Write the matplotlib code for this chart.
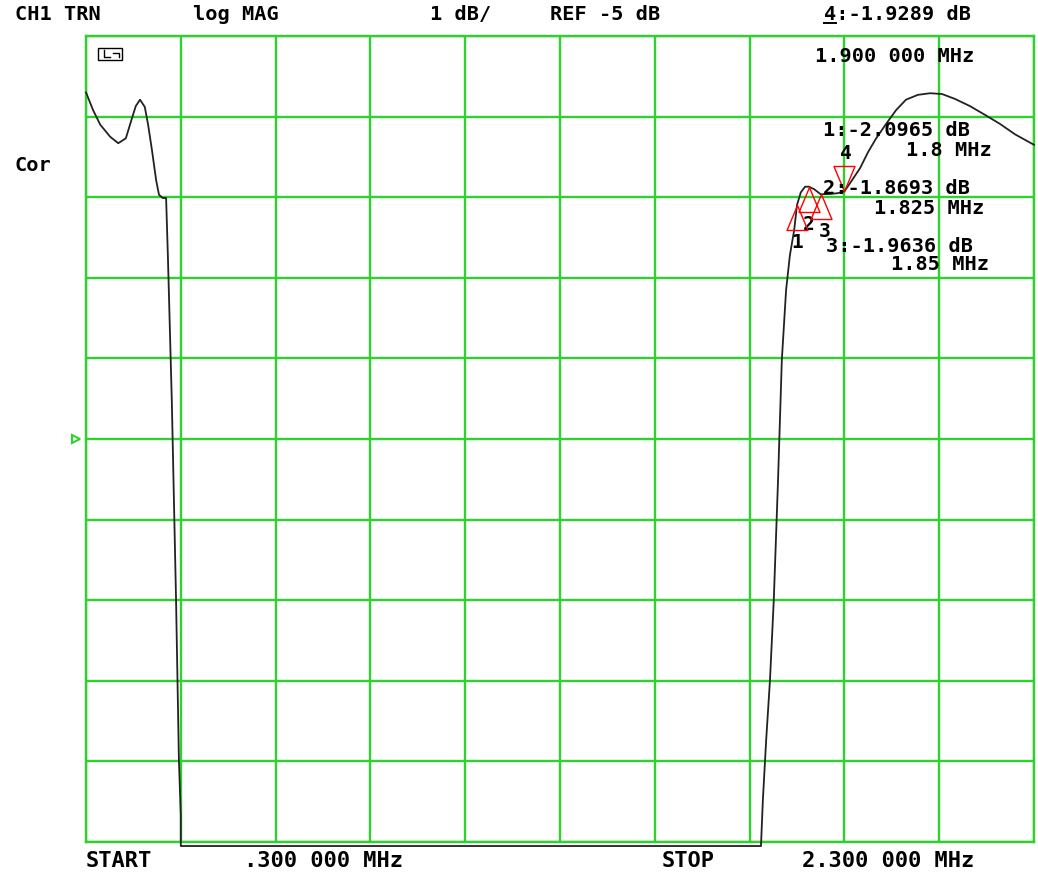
import numpy as np
import matplotlib.pyplot as plt
from matplotlib.path import Path
from matplotlib.lines import Line2D
from matplotlib.patches import Rectangle
import matplotlib.transforms as mtransforms

freq = [0.300, 0.315, 0.330, 0.351, 0.368, 0.384, 0.397, 0.405, 0.414, 0.424,
        0.431, 0.439, 0.448, 0.454, 0.462, 0.469, 0.473, 0.481, 0.490, 0.496,
        0.500, 0.500, 1.724, 1.728, 1.735, 1.743, 1.751, 1.760, 1.768, 1.777,
        1.785, 1.794, 1.800, 1.808, 1.817, 1.825, 1.836, 1.850, 1.870, 1.886,
        1.900, 1.916, 1.933, 1.950, 1.967, 1.988, 2.009, 2.030, 2.055, 2.081,
        2.106, 2.133, 2.165, 2.197, 2.228, 2.260, 2.300]
db = [-0.70, -0.92, -1.10, -1.25, -1.33, -1.27, -1.02, -0.87, -0.79, -0.88,
      -1.10, -1.41, -1.79, -1.97, -2.01, -2.01, -2.78, -4.52, -7.00, -8.98,
      -9.67, -10.05, -10.05, -9.48, -8.73, -7.99, -7.00, -5.51, -4.02, -3.15,
      -2.72, -2.41, -2.0965, -1.94, -1.87, -1.8693, -1.90, -1.9636, -1.96, -1.95,
      -1.9289, -1.79, -1.64, -1.44, -1.27, -1.09, -0.92, -0.79, -0.73, -0.71,
      -0.72, -0.78, -0.87, -0.98, -1.09, -1.22, -1.35]

# marqueurs
mk_num = ['1', '2', '3', '4']
mk_freq = [1.8, 1.825, 1.85, 1.9]
mk_db = [-2.0965, -1.8693, -1.9636, -1.9289]
mk_freq_txt = ['1.8 MHz', '1.825 MHz', '1.85 MHz', '1.900 000 MHz']

start, stop = 0.3, 2.3
ref_db, scale = -5, 1

W, H = 1038, 872
fig = plt.figure(figsize=(W / 100, H / 100), dpi=100)
ax = fig.add_axes([86 / W, 1 - 842 / H, (1034 - 86) / W, (842 - 36) / H])

vert = '#2fd12f'
ax.set_xlim(start, stop)
ax.set_ylim(ref_db - 5 * scale, ref_db + 5 * scale)
ax.set_xticks(np.linspace(start, stop, 11))
ax.set_yticks(np.arange(ref_db - 5, ref_db + 6, scale))
ax.tick_params(length=0, labelleft=False, labelbottom=False)
ax.grid(True, color=vert, lw=1.7)
for s in ax.spines.values():
    s.set_color(vert)
    s.set_linewidth(1.7)

ax.plot(freq, db, color='#222222', lw=1.3, clip_on=False, zorder=3)

# triangles des marqueurs (pointe sur la trace)
tri_up = Path([(0, 0), (-0.42, -1), (0.42, -1), (0, 0)], closed=True)
tri_dn = Path([(0, 0), (-0.42, 1), (0.42, 1), (0, 0)], closed=True)
for n, f, v in zip(mk_num, mk_freq, mk_db):
    if n == '4':
        ax.plot(f, v, marker=tri_dn, ms=36, mfc='none', mec='red', mew=1, zorder=4)
        ax.annotate(n, (f, v), xytext=(1, 27), textcoords='offset points',
                    ha='center', va='center', family='DejaVu Sans Mono',
                    weight='bold', fontsize=14)
    else:
        dx = 3 if n == '3' else 0
        ax.plot(f, v, marker=tri_up, ms=36, mfc='none', mec='red', mew=1, zorder=4)
        ax.annotate(n, (f, v), xytext=(dx, -27), textcoords='offset points',
                    ha='center', va='center', family='DejaVu Sans Mono',
                    weight='bold', fontsize=14)

# repère du niveau de référence
trans = mtransforms.blended_transform_factory(ax.transAxes, ax.transData)
ax.plot([-0.011], [ref_db], marker='>', ms=6, mfc='none', mec=vert, mew=1.5,
        transform=trans, clip_on=False)


def txt(x, y, s, ha='left', size=14.6):
    fig.text(x / W, 1 - y / H, s, ha=ha, va='center', family='DejaVu Sans Mono',
             weight='bold', fontsize=size)


txt(15, 15, 'CH1 TRN')
txt(193, 15, 'log MAG')
txt(430, 15, f'{scale} dB/')
txt(550, 15, f'REF {ref_db} dB')
txt(824, 15, f'{mk_num[3]}:{mk_db[3]:.4f} dB')
fig.add_artist(Line2D([824 / W, 836 / W], [1 - 23 / H, 1 - 23 / H], color='black', lw=1.4))
txt(974, 57, mk_freq_txt[3], ha='right')
txt(15, 165, 'Cor')

# lectures des marqueurs 1 à 3
lect_y = [(131, 151), (189, 209), (246, 265)]
lect_x = [(823, 992), (823, 984), (826, 989)]
for i in range(3):
    txt(lect_x[i][0], lect_y[i][0], f'{mk_num[i]}:{mk_db[i]:.4f} dB')
    txt(lect_x[i][1], lect_y[i][1], mk_freq_txt[i], ha='right')

txt(86, 861, 'START', size=15.8)
txt(244, 861, f'.{int(start * 1000):03d} 000 MHz', size=15.8)
txt(662, 861, 'STOP', size=15.8)
txt(802, 861, f'{stop:.3f} 000 MHz', size=15.8)

# petite icône en haut à gauche
fig.add_artist(Rectangle((98 / W, 1 - 60 / H), 24 / W, 12 / H, fill=False,
                         ec='black', lw=1, transform=fig.transFigure))
fig.add_artist(Line2D([104 / W, 104 / W, 110 / W], [1 - 50 / H, 1 - 57 / H, 1 - 57 / H],
                      color='black', lw=1))
fig.add_artist(Line2D([113 / W, 119 / W, 119 / W], [1 - 53 / H, 1 - 53 / H, 1 - 57 / H],
                      color='black', lw=1))

fig.savefig('out.png', dpi=100)
